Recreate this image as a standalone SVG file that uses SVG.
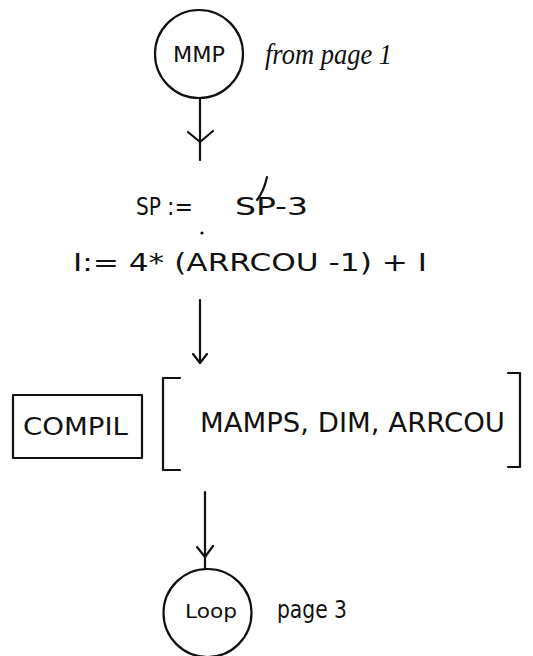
<svg xmlns="http://www.w3.org/2000/svg" width="533" height="656" viewBox="0 0 533 656">
<style>
.ln{stroke:#111;stroke-width:2.2;fill:none;stroke-linecap:round;stroke-linejoin:round}
.t{font-family:"DejaVu Sans","Liberation Sans",sans-serif;fill:#111}
.h{font-family:"Liberation Serif",serif;font-style:italic;fill:#111}
</style>
<rect width="533" height="656" fill="#fff"/>
<g id="mmp">
<circle class="ln" cx="199" cy="54" r="44"/>
<text class="t" x="173" y="62" font-size="22" textLength="52" lengthAdjust="spacingAndGlyphs">MMP</text>
<text class="h" x="265" y="64" font-size="30" textLength="127" lengthAdjust="spacingAndGlyphs">from page 1</text>
</g>
<g id="assign">
<text class="t" x="136" y="215" font-size="24" textLength="25" lengthAdjust="spacingAndGlyphs">SP</text>
<text class="t" x="167" y="215" font-size="24" textLength="26" lengthAdjust="spacingAndGlyphs">:=</text>
<text class="t" x="235" y="215" font-size="24" textLength="73" lengthAdjust="spacingAndGlyphs">SP-3</text>
<path class="ln" d="M267 177 Q264 191 257 200" stroke-width="1.6"/>
<circle cx="202" cy="233" r="1.6" fill="#111"/>
<text class="t" x="73" y="271" font-size="25" textLength="354" lengthAdjust="spacingAndGlyphs">I:= 4* (ARRCOU -1) + I</text>
</g>
<g id="compil">
<rect class="ln" x="13" y="395" width="129" height="63"/>
<text class="t" x="23" y="435" font-size="24" textLength="105" lengthAdjust="spacingAndGlyphs">COMPIL</text>
</g>
<g id="args">
<path class="ln" d="M180 378 H163 V470 H180"/>
<path class="ln" d="M508 373 H520 V467 H508"/>
<text class="t" x="200" y="432" font-size="26" textLength="305" lengthAdjust="spacingAndGlyphs">MAMPS, DIM, ARRCOU</text>
</g>
<g id="loop">
<circle class="ln" cx="207.5" cy="613" r="44"/>
<text class="t" x="185" y="618" font-size="20" textLength="52" lengthAdjust="spacingAndGlyphs">Loop</text>
<text class="t" x="277" y="618" font-size="24" textLength="70" lengthAdjust="spacingAndGlyphs">page 3</text>
</g>
<g id="connectors">
<path class="ln" d="M200 98 V160"/>
<path class="ln" d="M188 132 L200 142 L213 131"/>
<path class="ln" d="M200 300 V363"/>
<path class="ln" d="M193 354 L200 363 L207 354"/>
<path class="ln" d="M205 492 V569"/>
<path class="ln" d="M197 547 L205 557 L213 546"/>
</g>
</svg>
